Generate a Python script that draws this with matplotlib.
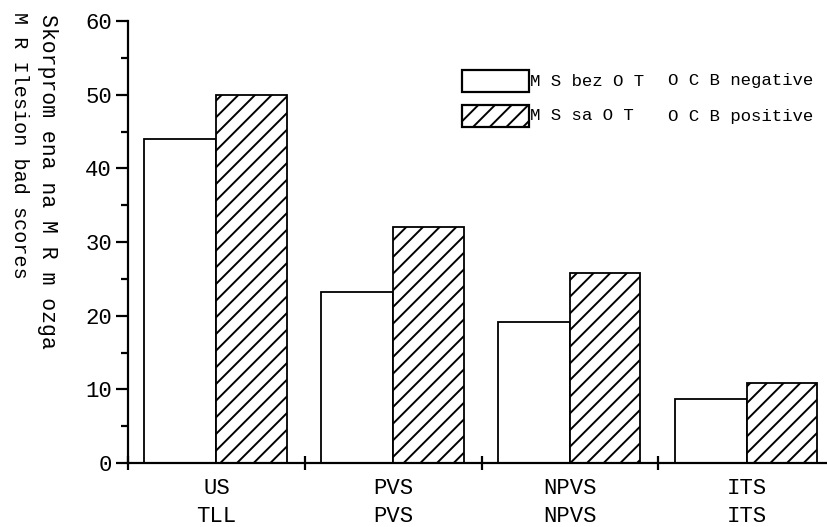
import matplotlib
matplotlib.use("Agg")
import matplotlib.pyplot as plt
from matplotlib.patches import Rectangle
import numpy as np

plt.rcParams['font.family'] = ['Liberation Mono', 'DejaVu Sans Mono']
plt.rcParams['hatch.linewidth'] = 1.4

categories = ["US\nTLL", "PVS\nPVS", "NPVS\nNPVS", "ITS\nITS"]
ocb_negative = [44, 23.2, 19.1, 8.7]
ocb_positive = [50, 32, 25.8, 10.8]
legend_labels = [("M S bez O T", "O C B negative"), ("M S sa O T", "O C B positive")]
ylabel_lines = ["Skorprom ena na M R m ozga", "M R Ilesion bad scores"]
yticks = [0, 10, 20, 30, 40, 50, 60]

W, H = 828, 527
fig = plt.figure(figsize=(W / 100, H / 100), dpi=100)
ax = fig.add_axes([128 / W, (H - 463) / H, (W - 128) / W, (463 - 21) / H])

x = np.arange(len(categories))
bw = 0.407
ax.bar(x - bw, ocb_negative, width=bw, align='edge', color='white',
       edgecolor='black', linewidth=1.3)
ax.bar(x, ocb_positive, width=bw * 0.98, align='edge', color='white',
       edgecolor='black', linewidth=1.3, hatch='//')

ax.set_xlim(-0.5, 3.46)
ax.set_ylim(0, 60)
for s in ['top', 'right']:
    ax.spines[s].set_visible(False)
for s in ['left', 'bottom']:
    ax.spines[s].set_linewidth(1.6)

ax.set_yticks(yticks)
ax.set_yticks(np.arange(5, 60, 10), minor=True)
ax.tick_params(axis='y', which='major', length=8.5, width=1.6, labelsize=16, pad=3)
ax.tick_params(axis='y', which='minor', length=5, width=1.6)

ax.set_xticks(x)
ax.set_xticklabels(categories, linespacing=1.45)
ax.set_xticks(np.arange(-0.5, 3, 1.0), minor=True)
ax.tick_params(axis='x', which='major', length=0, labelsize=16, pad=11)
ax.tick_params(axis='x', which='minor', direction='inout', length=10, width=1.6)

# y label lines (rotated, reading top to bottom)
fig.text(47 / W, 1 - 14 / H, ylabel_lines[0], rotation=-90, ha='center', va='top', fontsize=15.5)
fig.text(19 / W, 1 - 12 / H, ylabel_lines[1], rotation=-90, ha='center', va='top', fontsize=14.5)

# legend
boxes = [(462, 70, 67, 22, None), (462, 105, 67, 22, '//')]
for (bx, by, bwid, bh, hatch), (l1, l2) in zip(boxes, legend_labels):
    r = Rectangle((bx / W, 1 - (by + bh) / H), bwid / W, bh / H, transform=fig.transFigure,
                  facecolor='white', edgecolor='black', linewidth=1.6, hatch=hatch)
    fig.patches.append(r)
    cy = 1 - (by + bh / 2) / H
    fig.text(530 / W, cy, l1, ha='left', va='center', fontsize=12.5)
    fig.text(668 / W, cy, l2, ha='left', va='center', fontsize=12.5)

fig.savefig("out.png", dpi=100)
